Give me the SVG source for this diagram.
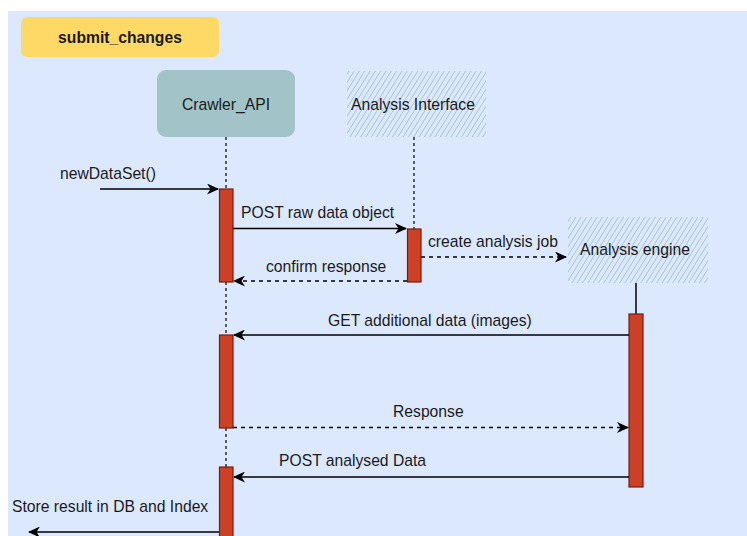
<svg xmlns="http://www.w3.org/2000/svg" width="747" height="536" viewBox="0 0 747 536">
<defs>
<style>
text{font-family:"Liberation Sans",Arial,sans-serif;font-size:15.7px;fill:#1a1a1a}
.t{font-weight:bold}
.msg{fill:none;stroke:#000;stroke-width:1.5}
.dash{stroke-dasharray:4 4}
.life{fill:none;stroke:#000;stroke-width:1.2;stroke-dasharray:3 3}
.bar{fill:#cc4125;stroke:#7a1a0c;stroke-width:1.2}
</style>
<pattern id="hatch" patternUnits="userSpaceOnUse" width="4.5" height="4.5" patternTransform="rotate(32)">
<line x1="0" y1="0" x2="0" y2="4.5" stroke="#9fc0c6" stroke-width="1.5"/>
</pattern>
<marker id="arr" markerWidth="13" markerHeight="11" refX="11" refY="5.5" orient="auto" markerUnits="userSpaceOnUse">
<path d="M0,0 L12,5.5 L0,11 L3.5,5.5 Z" fill="#000"/>
</marker>
</defs>
<rect x="8" y="11" width="739" height="525" fill="#dce8fd"/>
<g id="title">
<rect x="21" y="17" width="198" height="40" rx="6" fill="#ffd966"/>
<text class="t" x="120" y="42.5" text-anchor="middle">submit_changes</text>
</g>
<g id="lifelines">
<line class="life" x1="226" y1="137" x2="226" y2="189"/>
<line class="life" x1="226" y1="282" x2="226" y2="335"/>
<line class="life" x1="226" y1="428" x2="226" y2="467"/>
<line class="life" x1="414" y1="137" x2="414" y2="229"/>
<line x1="636" y1="283" x2="636" y2="314" stroke="#000" stroke-width="1.5"/>
</g>
<g id="crawler_api">
<rect x="157" y="70" width="138" height="67" rx="9" fill="#a2c4c9"/>
<text x="226" y="109.5" text-anchor="middle">Crawler_API</text>
</g>
<g id="analysis_interface">
<rect x="347" y="71" width="139" height="66" fill="url(#hatch)"/>
<text x="413" y="109.5" text-anchor="middle">Analysis Interface</text>
</g>
<g id="analysis_engine">
<rect x="568" y="217" width="140" height="66" fill="url(#hatch)"/>
<text x="635" y="254.5" text-anchor="middle">Analysis engine</text>
</g>
<g id="activations">
<rect class="bar" x="219.5" y="189" width="13.5" height="93"/>
<rect class="bar" x="407.5" y="229" width="13.5" height="53"/>
<rect class="bar" x="629" y="314" width="14" height="173"/>
<rect class="bar" x="219.5" y="335" width="13.5" height="93"/>
<rect class="bar" x="219.5" y="467" width="13.5" height="72"/>
</g>
<g id="connectors">
<line class="msg" x1="100" y1="189" x2="218" y2="189" marker-end="url(#arr)"/>
<line class="msg" x1="233" y1="228.5" x2="406" y2="228.5" marker-end="url(#arr)"/>
<line class="msg dash" x1="421" y1="257" x2="566" y2="257" marker-end="url(#arr)"/>
<line class="msg dash" x1="407" y1="281" x2="234" y2="281" marker-end="url(#arr)"/>
<line class="msg" x1="629" y1="335" x2="234" y2="335" marker-end="url(#arr)"/>
<line class="msg dash" x1="233" y1="427.5" x2="628" y2="427.5" marker-end="url(#arr)"/>
<line class="msg" x1="629" y1="477" x2="234" y2="477" marker-end="url(#arr)"/>
<line class="msg" x1="219" y1="532" x2="29" y2="532" marker-end="url(#arr)"/>
</g>
<g id="labels">
<text x="60" y="179">newDataSet()</text>
<text x="241" y="218">POST raw data object</text>
<text x="428" y="247">create analysis job</text>
<text x="266" y="272">confirm response</text>
<text x="328" y="325.5">GET additional data (images)</text>
<text x="393" y="417">Response</text>
<text x="279" y="466">POST analysed Data</text>
<text x="12" y="512">Store result in DB and Index</text>
</g>
</svg>
